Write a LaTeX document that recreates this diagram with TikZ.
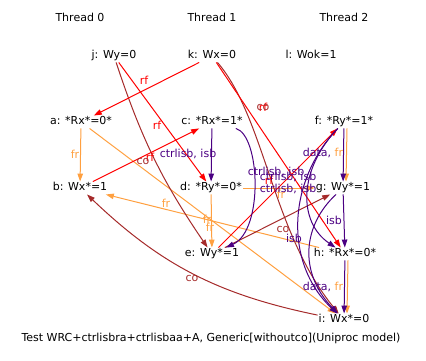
\documentclass[tikz,border=0pt]{standalone}
\usepackage{fontspec}
\setmainfont{DejaVu Sans}
\usepackage{tikz}
\usetikzlibrary{arrows.meta,calc}
\definecolor{rfcol}{RGB}{255,0,0}
\definecolor{cocol}{RGB}{165,42,42}
\definecolor{frcol}{RGB}{255,160,64}
\definecolor{isbcol}{RGB}{75,0,130}

\begin{document}
\begin{tikzpicture}[x=1pt,y=-1pt,
  every node/.style={font=\fontsize{11}{13}\selectfont},
  ev/.style={inner sep=1pt,text height=8pt,text depth=2.5pt},
  lab/.style={inner sep=0pt},
  arr/.style={-{Triangle[length=8pt,width=5.5pt]},line width=1pt},
  rfarr/.style={arr,draw=rfcol},
  coarr/.style={arr,draw=cocol},
  frarr/.style={arr,draw=frcol},
  isbarr/.style={arr,draw=isbcol},
  rflab/.style={lab,text=rfcol},
  colab/.style={lab,text=cocol},
  frlab/.style={lab,text=frcol},
  isblab/.style={lab,text=isbcol}]
\useasboundingbox (0,0) rectangle (426,361);
\node (t0) at (80,17) {Thread 0};
\node (t1) at (212,17) {Thread 1};
\node (t2) at (344,17) {Thread 2};
\node[ev] (j) at (114,56) {j: Wy=0};
\node[ev] (k) at (212,56) {k: Wx=0};
\node[ev] (l) at (311,56) {l: Wok=1};
\node[ev] (a) at (81,122) {a: *Rx*=0*};
\node[ev] (c) at (212,122) {c: *Rx*=1*};
\node[ev] (f) at (344,122) {f: *Ry*=1*};
\node[ev] (b) at (80,188) {b: Wx*=1};
\node[ev] (d) at (211,188) {d: *Ry*=0*};
\node[ev] (g) at (343,188) {g: Wy*=1};
\node[ev] (e) at (212,254) {e: Wy*=1};
\node[ev] (h) at (345,254) {h: *Rx*=0*};
\node[ev] (i) at (344,320) {i: Wx*=0};
\node (cap) at (211,338) {Test WRC+ctrlisbra+ctrlisbaa+A, Generic[withoutco](Uniproc model)};
\draw[frarr] (a) -- (b);
\draw[frarr] (a) -- (i);
\draw[frarr] (h) -- (b);
\draw[frarr] (d) -- (e);
\draw[frarr] (d) -- (g);
\draw[frarr] ([xshift=3pt]f.south) -- ([xshift=3pt]g.north);
\draw[frarr] ([xshift=3pt]h.south) -- ([xshift=3pt]i.north);
\draw[coarr] (j) to[bend right=8] (e);
\draw[coarr] (k) .. controls (265,118) and (272,232) .. (i);
\draw[coarr] (e) -- (g);
\draw[coarr] (i) to[bend left=16] (b);
\draw[rfarr] (k) -- (a);
\draw[rfarr] (j) -- (d);
\draw[rfarr] (b) -- (c);
\draw[rfarr] (e) -- (f);
\draw[rfarr] (k) -- (h);
\draw[isbarr] (c) -- (d);
\draw[isbarr] (c) .. controls (260,135) and (264,230) .. (e);
\draw[isbarr] (f) -- (g);
\draw[isbarr] (g) -- (h);
\draw[isbarr] (h) -- (i);
\draw[isbarr] (f) .. controls (298,170) and (298,222) .. (h);
\draw[isbarr] (f) .. controls (288,180) and (283,262) .. (i);
\draw[isbarr] (g) .. controls (303,225) and (298,272) .. (i);
\node[rflab] (lka) at (144,80) {rf};
\node[rflab] (ljd) at (157,125) {rf};
\node[rflab] (lbc) at (150,157) {rf};
\node[colab] (lje) at (143,161) {co};
\node[rflab] (lef) at (269,180) {rf};
\node[rflab] (lkh) at (263,107) {rf};
\node[colab] (lki) at (263,107) {co};
\node[colab] (leg) at (283,229) {co};
\node[colab] (lib) at (192,278) {co};
\node[frlab] (lab) at (75,154) {fr};
\node[frlab] (lai) at (207,219) {fr};
\node[frlab] (lhb) at (166,203) {fr};
\node[frlab] (lde) at (210,227) {fr};
\node[frlab] (ldg) at (281,194) {fr};
\node[isblab] (lcd) at (188,154) {ctrlisb, isb};
\node[isblab] (lce) at (276,172) {ctrlisb, isb};
\node[isblab] (lfh) at (288,177) {ctrlisb, isb};
\node[isblab] (lfi) at (288,189) {ctrlisb, isb};
\node[isblab] (lgh) at (334,220) {isb};
\node[isblab] (lgi) at (294,238) {isb};
\node[lab] (lfg) at (323,153) {\textcolor{isbcol}{data,} \textcolor{frcol}{fr}};
\node[lab] (lhi) at (323,287) {\textcolor{isbcol}{data,} \textcolor{frcol}{fr}};
\end{tikzpicture}
\end{document}
